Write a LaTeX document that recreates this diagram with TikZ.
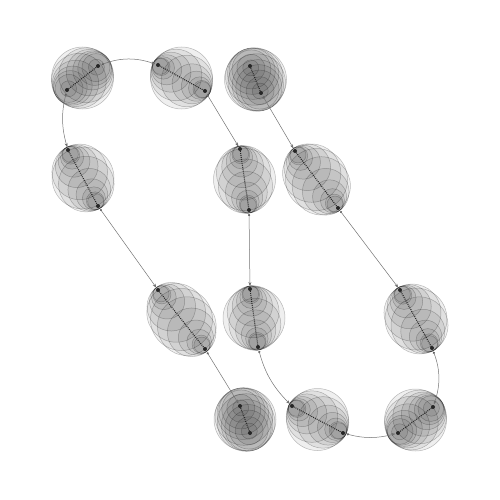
\documentclass[tikz,border=0pt]{standalone}
\usetikzlibrary{calc,arrows.meta}
\newcommand{\clus}[5]{%
  \coordinate (#1a) at (#2,#3);
  \coordinate (#1b) at (#4,#5);
  \pgfmathsetmacro{\cL}{veclen(#4-#2,#5-#3)}
  \pgfmathsetmacro{\cA}{max(\cL/2+3,32)}
  \pgfmathsetmacro{\cX}{min(\cA-8,\cL/2-2)}
  \pgfmathsetmacro{\cD}{\cA*\cA-961}
  \pgfmathsetmacro{\cT}{\cD/\cA}
  \foreach \i in {0,...,12}{
    \pgfmathsetmacro{\ss}{sin(90*(\i/6-1))}
    \pgfmathsetmacro{\xx}{\cX*\ss}
    \pgfmathsetmacro{\rra}{31*sqrt(max(0,1-\xx*\xx/\cD))}
    \pgfmathsetmacro{\rrb}{\cA-abs(\xx)}
    \pgfmathsetmacro{\rri}{abs(\xx)<=\cT ? \rra : \rrb}
    \pgfmathsetmacro{\rrc}{8+23*sqrt(max(0,1-\ss*\ss))}
    \pgfmathsetmacro{\rr}{min(\rri,\rrc)}
    \pgfmathsetmacro{\ct}{0.5+\xx/\cL}
    \path[clus] ($(#1a)!\ct!(#1b)$) circle[radius=\rr pt];
  }
  \draw[segdots] (#1a) -- (#1b);
  \fill[enddot] (#1a) circle[radius=2pt];
  \fill[enddot] (#1b) circle[radius=2pt];
}
\begin{document}
\begin{tikzpicture}[x=1pt,y=-1pt,
  clus/.style={draw=black,draw opacity=0.25,fill=black,fill opacity=0.062,line width=0.5pt},
  segdots/.style={line width=1.1pt,dash pattern=on 0.9pt off 1.1pt,black!85},
  enddot/.style={fill=black!85},
  conn/.style={draw=black!55,line width=0.5pt,{Circle[length=2.2pt,fill=black]}-{Stealth[length=4pt,width=3pt,fill=black]},shorten <=4pt,shorten >=3pt}]
\useasboundingbox (0,0) rectangle (500,500);
\clus{c1}{67}{90}{98}{66}
\clus{c2}{158}{65}{205}{91}
\clus{c3}{250}{66}{261}{93}
\clus{c4}{68}{150}{98}{206}
\clus{c5}{240}{149}{249}{210}
\clus{c6}{295}{151}{338}{208}
\clus{c7}{158}{290}{205}{349}
\clus{c8}{250}{289}{258}{347}
\clus{c9}{400}{290}{432}{348}
\clus{c10}{240}{406}{250}{433}
\clus{c11}{292}{406}{343}{433}
\clus{c12}{433}{407}{398}{433}
\draw[conn] (c1b) to[bend left=20] (c2a);
\draw[conn] (c1a) to[bend right=15] (c4a);
\draw[conn] (c2b) -- (c5a);
\draw[conn] (c3b) -- (c6a);
\draw[conn] (c4b) -- (c7a);
\draw[conn] (c5b) -- (c8a);
\draw[conn] (c6b) -- (c9a);
\draw[conn] (c7b) -- (c10a);
\draw[conn] (c8b) to[bend right=15] (c11a);
\draw[conn] (c9b) to[bend left=20] (c12a);
\draw[conn] (c11b) to[bend right=15] (c12b);
\end{tikzpicture}
\end{document}
